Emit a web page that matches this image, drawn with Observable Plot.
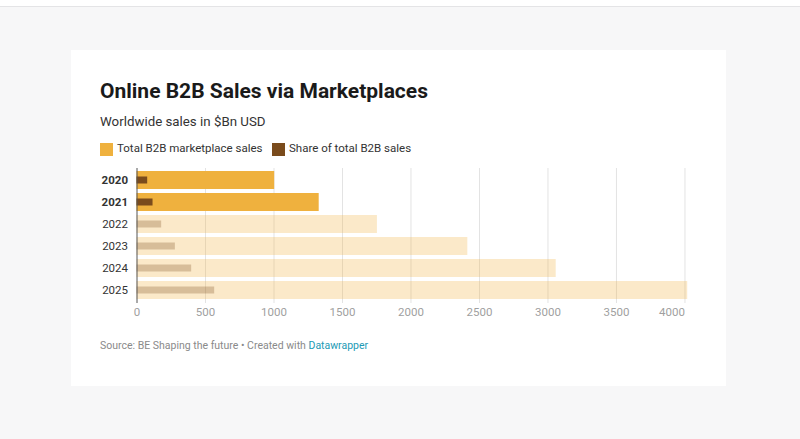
<!DOCTYPE html>
<html>
<head>
<meta charset="utf-8">
<script src="https://cdn.jsdelivr.net/npm/d3@7"></script>
<script src="https://cdn.jsdelivr.net/npm/@observablehq/plot@0.6"></script>
<style>
  html, body { margin: 0; padding: 0; }
  body { width: 800px; height: 439px; background: #f7f7f8; position: relative; overflow: hidden; font-family: Roboto, "Noto Sans", sans-serif; }
  #topbar { position: absolute; left: 0; top: 0; width: 800px; height: 6px; background: #fff; border-bottom: 1px solid #e4e4e6; }
  #card { position: absolute; left: 71px; top: 50px; width: 655px; height: 336px; background: #fff; }
  .abs { position: absolute; white-space: nowrap; line-height: 1; }
  #title { left: 29px; top: 31px; font-size: 21px; font-weight: 700; color: #1a1a1a; }
  #subtitle { left: 29px; top: 65px; font-size: 13.3px; color: #333; }
  .leg { top: 93px; font-size: 11.5px; color: #333; }
  .sw { position: absolute; top: 93px; width: 13px; height: 13px; }
  #footer { left: 29px; top: 291px; font-size: 10.5px; color: #8a8a8a; }
  #footer a { color: #1d9ab5; text-decoration: none; }
  #chart { position: absolute; left: 25px; top: 110px; }
</style>
</head>
<body>
<div id="topbar"></div>
<div id="card">
  <div id="title" class="abs">Online B2B Sales via Marketplaces</div>
  <div id="subtitle" class="abs">Worldwide sales in $Bn USD</div>
  <div class="sw" style="left:29px;background:#efb13e"></div>
  <div class="abs leg" style="left:46px">Total B2B marketplace sales</div>
  <div class="sw" style="left:201px;background:#7a4b1c"></div>
  <div class="abs leg" style="left:218px">Share of total B2B sales</div>
  <div id="chart"></div>
  <div id="footer" class="abs">Source: BE Shaping the future • Created with <a>Datawrapper</a></div>
</div>
<script>
const years = ["2020", "2021", "2022", "2023", "2024", "2025"];
const totalSales = [1005, 1330, 1755, 2415, 3060, 4020];
const shareSales = [78, 117, 180, 280, 399, 567];
const actualYears = ["2020", "2021"];
const xTicks = [0, 500, 1000, 1500, 2000, 2500, 3000, 3500, 4000];

const orange = "#efb13e";
const brown = "#7a4b1c";

const data = years.map((y, i) => ({
  year: y,
  total: totalSales[i],
  share: shareSales[i],
  op: actualYears.includes(y) ? 1 : 0.28
}));

const chart = Plot.plot({
  width: 600,
  height: 170,
  marginLeft: 40.5,
  marginRight: 8.8,
  marginTop: 8,
  marginBottom: 27,
  style: { fontFamily: "Roboto, sans-serif", background: "transparent" },
  x: { domain: [0, 4020], axis: null },
  y: { domain: years, axis: null, paddingInner: 0.17, paddingOuter: 0.085 },
  marks: [
    Plot.ruleX(xTicks.filter(d => d !== 0), { stroke: "#e3e3e3", strokeWidth: 1 }),
    Plot.barX(data, { y: "year", x: "total", fill: orange, fillOpacity: "op" }),
    Plot.barX(data, { y: "year", x: "share", fill: brown, fillOpacity: "op", insetTop: 5.5, insetBottom: 5.5 }),
    Plot.ruleX([0], { stroke: "#555", strokeWidth: 1 }),
    Plot.text(data.filter(d => actualYears.includes(d.year)), { y: "year", x: 0, text: "year", dx: -9, textAnchor: "end", fontSize: 11.5, fontWeight: 700, fill: "#333" }),
    Plot.text(data.filter(d => !actualYears.includes(d.year)), { y: "year", x: 0, text: "year", dx: -9, textAnchor: "end", fontSize: 11.5, fill: "#333" }),
    Plot.text(xTicks.filter(d => d !== 4000), { x: d => d, text: d => String(d), frameAnchor: "bottom", dy: 12, fontSize: 11.5, fill: "#9f9f9f" }),
    Plot.text([4000], { x: d => d, text: d => String(d), frameAnchor: "bottom", dy: 12, textAnchor: "end", fontSize: 11.5, fill: "#9f9f9f" })
  ]
});
document.getElementById("chart").appendChild(chart);
</script>
</body>
</html>
